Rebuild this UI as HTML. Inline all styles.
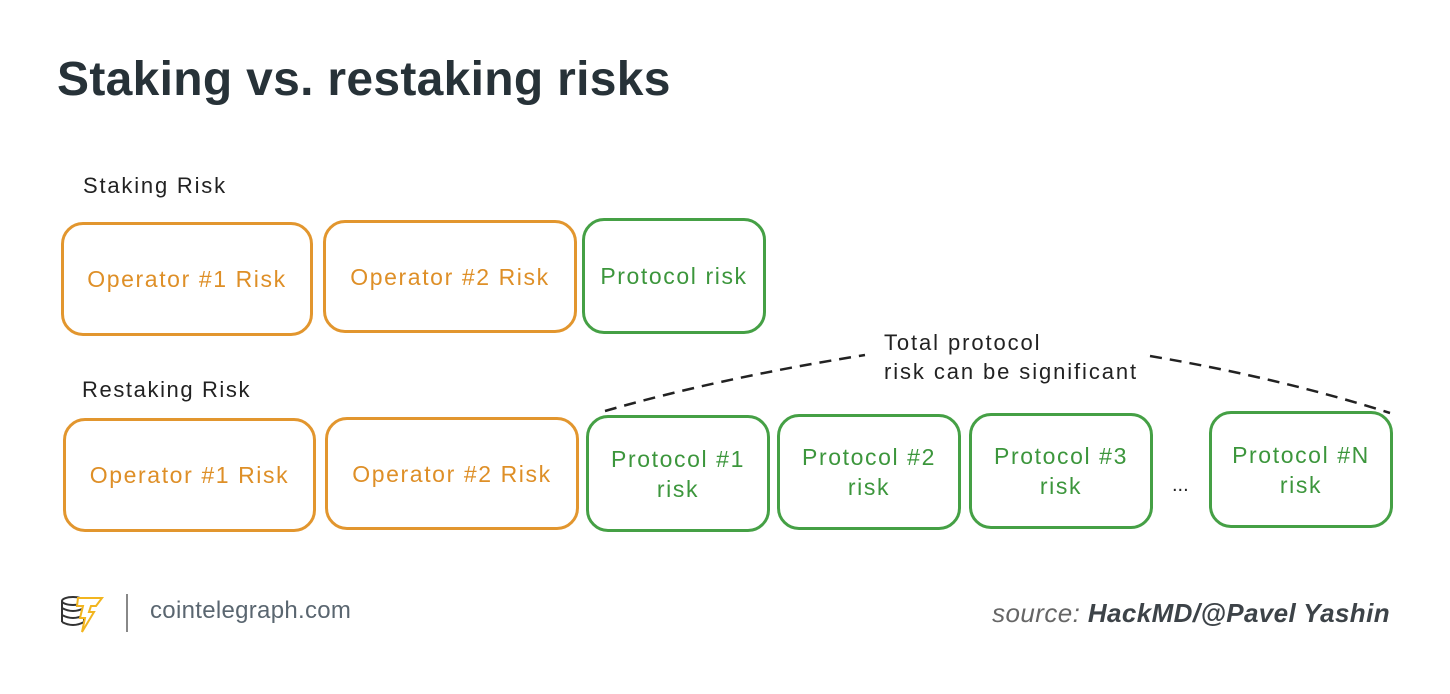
<!DOCTYPE html>
<html><head><meta charset="utf-8"><style>
body{margin:0;width:1450px;height:694px;background:#fff;position:relative;overflow:hidden;font-family:"Liberation Sans",sans-serif}
.t{position:absolute;white-space:nowrap}
.b{position:absolute;box-sizing:border-box;border:3px solid;border-radius:22px;display:flex;align-items:center;justify-content:center;text-align:center;font-size:23px;line-height:30px;letter-spacing:1.6px}
.o{border-color:#e2962e;color:#de8f27}
.g{border-color:#45a045;color:#3c963c}
</style></head><body>
<div class="t" style="left:57px;top:52px;font-size:48px;font-weight:bold;color:#273238;letter-spacing:0.3px">Staking vs. restaking risks</div>
<div class="t" style="left:83px;top:173px;font-size:22px;color:#222;letter-spacing:1.8px">Staking Risk</div>
<div class="t" style="left:82px;top:377px;font-size:22px;color:#222;letter-spacing:1.6px">Restaking Risk</div>
<div class="b o" style="left:61px;top:222px;width:252px;height:114px">Operator #1 Risk</div>
<div class="b o" style="left:323px;top:220px;width:254px;height:113px">Operator #2 Risk</div>
<div class="b g" style="left:582px;top:218px;width:184px;height:116px">Protocol risk</div>
<div class="b o" style="left:63px;top:418px;width:253px;height:114px">Operator #1 Risk</div>
<div class="b o" style="left:325px;top:417px;width:254px;height:113px">Operator #2 Risk</div>
<div class="b g" style="left:586px;top:415px;width:184px;height:117px">Protocol #1<br>risk</div>
<div class="b g" style="left:777px;top:414px;width:184px;height:116px">Protocol #2<br>risk</div>
<div class="b g" style="left:969px;top:413px;width:184px;height:116px">Protocol #3<br>risk</div>
<div class="t" style="left:1172px;top:474px;font-size:20px;color:#222">...</div>
<div class="b g" style="left:1209px;top:411px;width:184px;height:117px">Protocol #N<br>risk</div>
<div class="t" style="left:884px;top:328px;font-size:22px;line-height:29px;color:#222;letter-spacing:1.9px">Total protocol<br>risk can be significant</div>
<svg style="position:absolute;left:0;top:0" width="1450" height="694">
<path d="M605 411 Q720 378 865 355" stroke="#222" stroke-width="2.5" fill="none" stroke-dasharray="12 8"/>
<path d="M1150 356 Q1280 378 1390 413" stroke="#222" stroke-width="2.5" fill="none" stroke-dasharray="12 8"/>
<g fill="none" stroke="#333" stroke-width="2">
<ellipse cx="73" cy="601" rx="11" ry="4"/><path d="M62 601v21M84 601v21M62 608q11 6 22 0M62 615q11 6 22 0M62 622q11 6 22 0"/>
</g>
<path d="M78 598h24l-6 8h-5l-2 6h5l-12 20 3-14h-5l3-12h-6z" fill="#fff" stroke="#f2b51f" stroke-width="2"/>
<rect x="126" y="594" width="2" height="38" fill="#888"/>
</svg>
<div class="t" style="left:150px;top:597px;font-size:24px;color:#5a6670;letter-spacing:0.3px">cointelegraph.com</div>
<div class="t" style="right:60px;top:598px;font-size:26px;font-style:italic;color:#666;letter-spacing:0.4px">source: <b style="color:#3d4348">HackMD/@Pavel Yashin</b></div>
</body></html>
